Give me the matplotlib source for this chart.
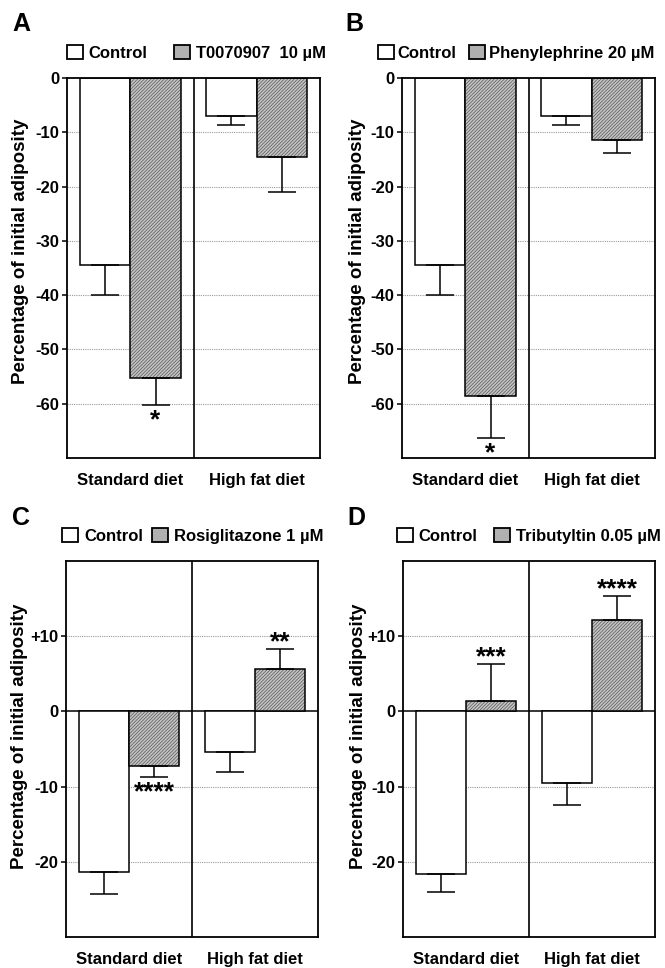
import matplotlib
matplotlib.use("Agg")
import matplotlib.pyplot as plt
from matplotlib.patches import Patch

plt.rcParams['font.family'] = ['Liberation Sans', 'DejaVu Sans']
plt.rcParams['font.weight'] = 'bold'
plt.rcParams['hatch.linewidth'] = 0.5

# data
groups = ["Standard diet", "High fat diet"]

a_control = [-34.5, -7.0]
a_control_err = [5.5, 1.6]
a_treat = [-55.3, -14.5]
a_treat_err = [5.0, 6.5]
a_sig = ["*", ""]

b_control = [-34.5, -7.0]
b_control_err = [5.5, 1.6]
b_treat = [-58.5, -11.5]
b_treat_err = [7.8, 2.4]
b_sig = ["*", ""]

c_control = [-21.3, -5.4]
c_control_err = [3.0, 2.6]
c_treat = [-7.2, 5.6]
c_treat_err = [1.5, 2.7]
c_sig = ["****", "**"]

d_control = [-21.6, -9.5]
d_control_err = [2.4, 2.9]
d_treat = [1.4, 12.2]
d_treat_err = [4.9, 3.1]
d_sig = ["***", "****"]

treat_names = ["T0070907  10 \u00b5M", "Phenylephrine 20 \u00b5M",
               "Rosiglitazone 1 \u00b5M", "Tributyltin 0.05 \u00b5M"]
letters = ["A", "B", "C", "D"]

ticks_ab = [0, -10, -20, -30, -40, -50, -60]
ticklabels_ab = ["0", "-10", "-20", "-30", "-40", "-50", "-60"]
ticks_cd = [-20, -10, 0, 10]
ticklabels_cd = ["-20", "-10", "0", "+10"]

W, H = 665, 968
fig = plt.figure(figsize=(W / 100, H / 100), dpi=100)

grey = '#c4c4c4'


def one_sided(vals, errs):
    lo = [e if v < 0 else 0 for v, e in zip(vals, errs)]
    hi = [e if v >= 0 else 0 for v, e in zip(vals, errs)]
    return [lo, hi]


def draw_panel(rect, control, control_err, treat, treat_err, sig, ylim, ticks, ticklabels):
    l, t, r, b = rect
    ax = fig.add_axes([l / W, 1 - b / H, (r - l) / W, (b - t) / H])
    xc = [0.3, 1.3]
    xt = [0.7, 1.7]
    for y in ticks:
        if y != 0:
            ax.axhline(y, color='#9a9a9a', lw=0.8, ls=(0, (1, 1)), zorder=0)
    if ylim[1] > 0:
        ax.axhline(0, color='black', lw=1.1, zorder=1)
    ax.bar(xc, control, width=0.4, color='white', edgecolor='black', lw=1.1, zorder=2)
    # hatch in dark grey, outline in black on top
    ax.bar(xt, treat, width=0.4, color=grey, edgecolor='#555555', lw=0,
           hatch='//////////', zorder=2)
    ax.bar(xt, treat, width=0.4, color='none', edgecolor='black', lw=1.1, zorder=2.5)
    ax.errorbar(xc, control, yerr=one_sided(control, control_err), fmt='none',
                ecolor='black', elinewidth=1.1, capsize=10, capthick=1.1, zorder=3)
    ax.errorbar(xt, treat, yerr=one_sided(treat, treat_err), fmt='none',
                ecolor='black', elinewidth=1.1, capsize=10, capthick=1.1, zorder=3)
    for x, v, e, s in zip(xt, treat, treat_err, sig):
        if not s:
            continue
        if v < 0:
            ax.annotate(s, (x, v - e), xytext=(0, -16), textcoords='offset points',
                        ha='center', va='baseline', fontsize=19, fontweight='bold')
        else:
            ax.annotate(s, (x, v + e), xytext=(0, 0), textcoords='offset points',
                        ha='center', va='baseline', fontsize=19, fontweight='bold')
    ax.axvline(1, color='black', lw=1.2, zorder=3)
    ax.set_xlim(0, 2)
    ax.set_ylim(*ylim)
    ax.set_yticks(ticks)
    ax.set_yticklabels(ticklabels)
    ax.set_xticks([0.5, 1.5])
    ax.set_xticklabels(groups)
    ax.tick_params(axis='x', length=0, pad=11, labelsize=12)
    ax.tick_params(axis='y', length=3.5, width=1.1, pad=2, labelsize=12)
    for sp in ax.spines.values():
        sp.set_linewidth(1.3)
    ax.set_ylabel("Percentage of initial adiposity", fontsize=13.5, fontweight='bold')
    return ax


def draw_legend(x, y, name, colsp, textpad):
    handles = [Patch(facecolor='white', edgecolor='black', lw=1.3, label='Control'),
               Patch(facecolor='#b0b0b0', edgecolor='black', lw=1.3, label=name)]
    fig.legend(handles=handles, loc='center left', bbox_to_anchor=(x / W, 1 - y / H),
               ncol=2, frameon=False, handlelength=0.95, handleheight=0.95,
               handletextpad=textpad, columnspacing=colsp, borderpad=0, borderaxespad=0,
               prop={'weight': 'bold', 'size': 12})


ax_a = draw_panel((67, 78, 320, 458), a_control, a_control_err, a_treat, a_treat_err,
                  a_sig, (-70, 0), ticks_ab, ticklabels_ab)
ax_b = draw_panel((402, 78, 655, 458), b_control, b_control_err, b_treat, b_treat_err,
                  b_sig, (-70, 0), ticks_ab, ticklabels_ab)
ax_c = draw_panel((66, 561, 318, 937), c_control, c_control_err, c_treat, c_treat_err,
                  c_sig, (-30, 20), ticks_cd, ticklabels_cd)
ax_d = draw_panel((403, 561, 655, 937), d_control, d_control_err, d_treat, d_treat_err,
                  d_sig, (-30, 20), ticks_cd, ticklabels_cd)

ax_a.yaxis.set_label_coords(-0.152, 0.545)
ax_b.yaxis.set_label_coords(-0.142, 0.545)
ax_c.yaxis.set_label_coords(-0.152, 0.535)
ax_d.yaxis.set_label_coords(-0.142, 0.535)

draw_legend(67, 53, treat_names[0], 1.6, 0.35)
draw_legend(378, 53, treat_names[1], 0.8, 0.2)
draw_legend(62, 536, treat_names[2], 0.5, 0.4)
draw_legend(397, 536, treat_names[3], 1.0, 0.35)

letter_pos = [(12, 24), (345, 24), (12, 518), (347, 518)]
for (x, y), let in zip(letter_pos, letters):
    fig.text(x / W, 1 - y / H, let, fontsize=18, fontweight='bold', ha='left', va='center')

fig.savefig("out.png", dpi=100)
